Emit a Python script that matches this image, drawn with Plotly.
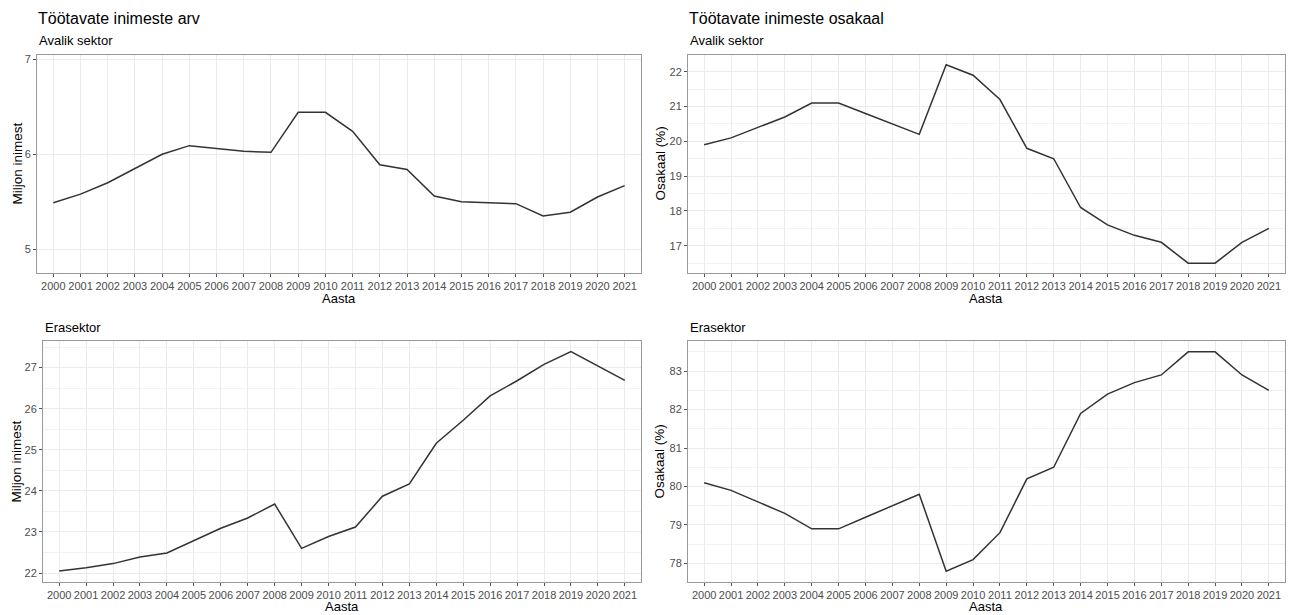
import plotly.graph_objects as go

years = list(range(2000, 2022))

avalik_arv = [5.49, 5.58, 5.70, 5.85, 6.00, 6.09, 6.06, 6.03, 6.02, 6.44, 6.44,
              6.24, 5.89, 5.84, 5.56, 5.50, 5.49, 5.48, 5.35, 5.39, 5.55, 5.67]
era_arv = [22.05, 22.13, 22.23, 22.39, 22.49, 22.79, 23.09, 23.34, 23.68, 22.60, 22.89,
           23.12, 23.87, 24.17, 25.16, 25.72, 26.31, 26.68, 27.08, 27.39, 27.04, 26.69]
avalik_osa = [19.9, 20.1, 20.4, 20.7, 21.1, 21.1, 20.8, 20.5, 20.2, 22.2, 21.9,
              21.2, 19.8, 19.5, 18.1, 17.6, 17.3, 17.1, 16.5, 16.5, 17.1, 17.5]
era_osa = [80.1, 79.9, 79.6, 79.3, 78.9, 78.9, 79.2, 79.5, 79.8, 77.8, 78.1,
           78.8, 80.2, 80.5, 81.9, 82.4, 82.7, 82.9, 83.5, 83.5, 82.9, 82.5]

W, H = 1295, 615
FONT = "Liberation Sans, Arial, Helvetica, sans-serif"

def px(x):
    return x / W

def py(y):
    return 1 - y / H

fig = go.Figure()

panels = [
    (avalik_arv, "x", "y", (37, 641), (53, 272), [4.75, 7.045], [5, 6, 7], False),
    (avalik_osa, "x2", "y2", (688, 1285), (53, 272), [16.215, 22.485], [17, 18, 19, 20, 21, 22], True),
    (era_arv, "x3", "y3", (43, 641), (340, 582), [21.78, 27.65], [22, 23, 24, 25, 26, 27], True),
    (era_osa, "x4", "y4", (688, 1285), (340, 582), [77.515, 83.785], [78, 79, 80, 81, 82, 83], True),
]

layout = {}
for i, (data, xa, ya, (x0, x1), (yt, yb), yr, ytv, minor) in enumerate(panels):
    fig.add_trace(go.Scatter(x=years, y=data, mode="lines", xaxis=xa, yaxis=ya,
                             line=dict(color="#333333", width=1.5), showlegend=False,
                             hoverinfo="x+y"))
    xk = "xaxis" if i == 0 else f"xaxis{i+1}"
    yk = "yaxis" if i == 0 else f"yaxis{i+1}"
    layout[xk] = dict(
        domain=[px(x0), px(x1)], anchor=ya, range=[1999.4, 2021.6],
        tickvals=years, ticktext=[str(y) for y in years],
        showgrid=True, gridcolor="#ebebeb", gridwidth=1,
        showline=True, linecolor="#999999", linewidth=1, mirror=True,
        ticks="outside", ticklen=3, tickcolor="#555555", tickwidth=1,
        tickfont=dict(family=FONT, size=11, color="#4d4d4d"),
        zeroline=False, fixedrange=True,
    )
    ydict = dict(
        domain=[py(yb), py(yt)], anchor=xa, range=yr,
        tickvals=ytv,
        showgrid=True, gridcolor="#ebebeb", gridwidth=1,
        showline=True, linecolor="#999999", linewidth=1, mirror=True,
        ticks="outside", ticklen=3, tickcolor="#555555", tickwidth=1,
        tickfont=dict(family=FONT, size=11, color="#4d4d4d"),
        zeroline=False, fixedrange=True,
    )
    if minor:
        ydict["minor"] = dict(showgrid=True, dtick=0.5, tick0=0, gridcolor="#f2f2f2", gridwidth=1)
    layout[yk] = ydict

annotations = []

def text(t, x, y, size, xanchor="left", angle=0, color="#000000"):
    annotations.append(dict(text=t, x=px(x), y=py(y), xref="paper", yref="paper",
                            xanchor=xanchor, yanchor="middle", showarrow=False,
                            textangle=angle, font=dict(family=FONT, size=size, color=color)))

text("Töötavate inimeste arv", 36, 17, 16)
text("Avalik sektor", 37, 39, 13)
text("Töötavate inimeste osakaal", 687, 17, 16)
text("Avalik sektor", 688, 39, 13)
text("Erasektor", 43, 327, 13)
text("Erasektor", 688, 327, 13)
text("Miljon inimest", 17, 162, 13.5, xanchor="center", angle=-90)
text("Miljon inimest", 17, 461, 13.5, xanchor="center", angle=-90)
text("Osakaal (%)", 660, 162, 13.5, xanchor="center", angle=-90)
text("Osakaal (%)", 660, 461, 13.5, xanchor="center", angle=-90)
text("Aasta", 339, 297, 13, xanchor="center")
text("Aasta", 342, 606, 13, xanchor="center")
text("Aasta", 986, 297, 13, xanchor="center")
text("Aasta", 986, 606, 13, xanchor="center")

fig.update_layout(
    width=W, height=H,
    margin=dict(l=0, r=0, t=0, b=0),
    paper_bgcolor="white", plot_bgcolor="white",
    annotations=annotations,
    **layout,
)

fig.write_html(
    "out.html",
    config={"displayModeBar": False},
    post_script="document.body.style.margin='0';document.body.style.overflow='hidden';",
)
